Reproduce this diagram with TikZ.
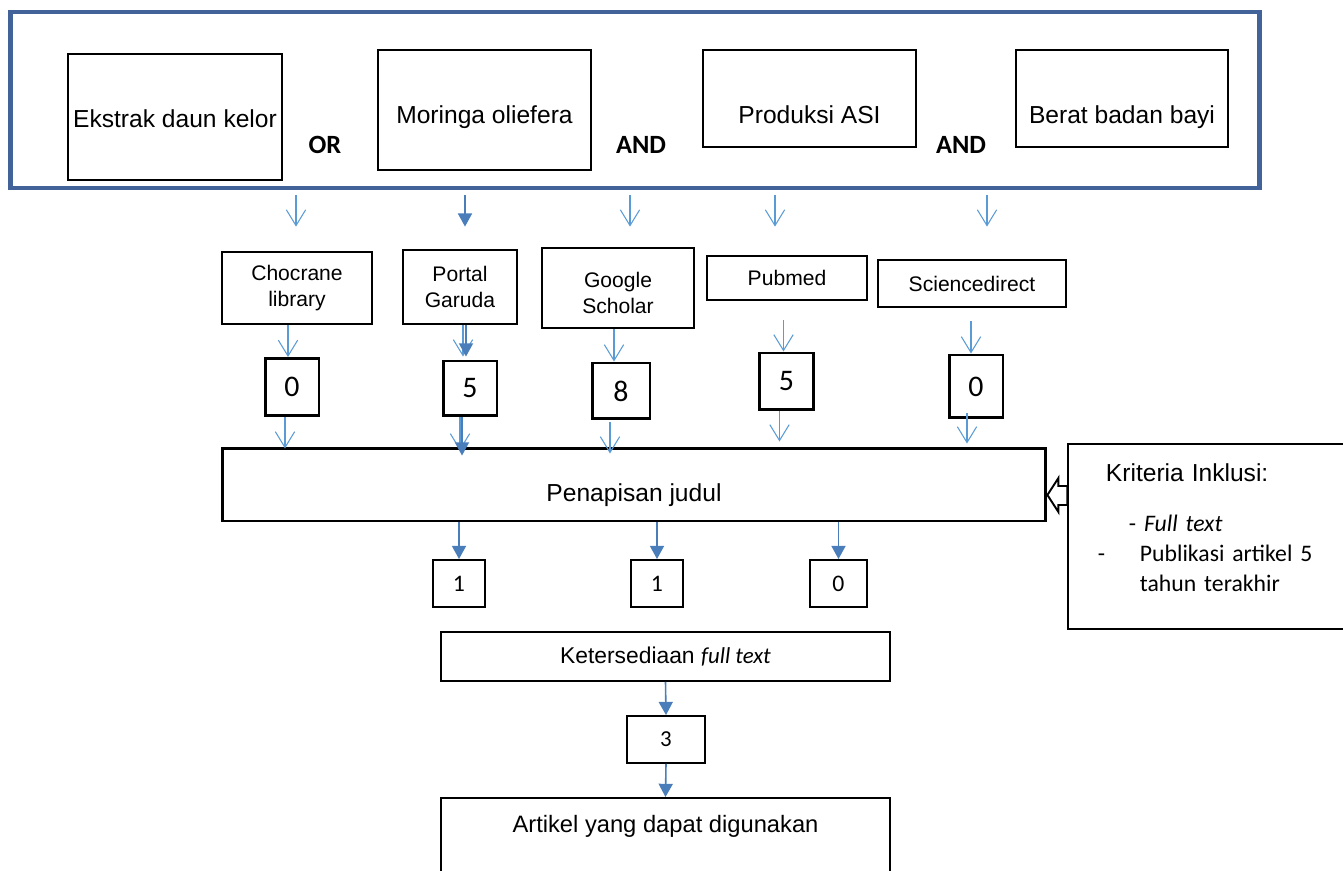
\documentclass[tikz,border=0pt]{standalone}
\usepackage{fontspec}
\setmainfont{Liberation Sans}
\newfontfamily\calibri{Carlito}
\usetikzlibrary{arrows.meta,calc}
\definecolor{framecol}{HTML}{41639A}
\definecolor{arrlight}{HTML}{5B9BD5}
\definecolor{arrdark}{HTML}{4A7EBB}

\begin{document}
\begin{tikzpicture}[
    x=0.02cm, y=-0.02cm,
    termnode/.style={rectangle, draw, line width=1.1pt, inner xsep=0pt, inner ysep=0pt, anchor=base, text height=1.48cm, font=\fontsize{14}{17}\selectfont},
    opnode/.style={font=\calibri\bfseries\fontsize{15}{18}\selectfont},
    dbnode/.style={rectangle, draw, line width=1.6pt, align=center, font=\fontsize{12}{15}\selectfont},
    countnode/.style={rectangle, draw, line width=1.7pt, minimum width=1.08cm, minimum height=1.14cm, font=\calibri\fontsize{17}{17}\selectfont},
    smallcount/.style={rectangle, draw, line width=1.1pt, minimum width=1.04cm, minimum height=0.94cm, font=\calibri\fontsize{13.5}{14}\selectfont},
    stepnode/.style={rectangle, draw, line width=1.1pt, minimum width=8.98cm, font=\fontsize{13}{16}\selectfont},
    openarr/.style={draw=arrlight, line width=0.6pt, -{Straight Barb[length=9pt, width=11pt]}},
    fillarr/.style={draw=arrdark, line width=0.9pt, -{Triangle[length=7.5pt, width=8pt]}}
   ]
   \useasboundingbox (0,0) rectangle (1343,871);

   % search terms
   \node[draw=framecol, line width=2.8pt, minimum width=25cm, minimum height=3.52cm] (frame) at (635,100) {};
   \node[termnode, minimum width=4.28cm, text depth=1.04cm] (kelor)    at (175,128)   {Ekstrak daun kelor};
   \node[termnode, minimum width=4.26cm, text depth=0.92cm] (moringa)  at (484.5,124) {Moringa oliefera};
   \node[termnode, minimum width=4.26cm, text depth=0.46cm] (produksi) at (809.5,124) {Produksi ASI};
   \node[termnode, minimum width=4.24cm, text depth=0.46cm] (berat)    at (1122,124)  {Berat badan bayi};
   \node[opnode] (orA)  at (325,145) {OR};
   \node[opnode] (andA) at (641,145) {AND};
   \node[opnode] (andB) at (961,145) {AND};

   % databases
   \node[dbnode, minimum width=3cm, minimum height=1.44cm]    (choc)    at (297,288)   {Chocrane\\library};
   \node[dbnode, minimum width=2.28cm, minimum height=1.48cm] (garuda)  at (460,287)   {Portal\\Garuda};
   \node[dbnode, minimum width=3.04cm, minimum height=1.6cm]  (scholar) at (618,288)   {\rule{0pt}{0.5cm}Google\\Scholar};
   \node[dbnode, minimum width=3.2cm, minimum height=0.88cm]  (pubmed)  at (787,278)   {Pubmed};
   \node[dbnode, minimum width=3.76cm, minimum height=0.94cm] (scidir)  at (972,283.5) {Sciencedirect};

   \node[countnode]                                          (nchoc)    at (292,387)     {0};
   \node[countnode, minimum height=1.1cm]                    (ngaruda)  at (470,388.5)   {5};
   \node[countnode, minimum width=1.16cm, minimum height=1.12cm] (nscholar) at (621,391) {8};
   \node[countnode]                                          (npubmed)  at (786.5,381.5) {5};
   \node[countnode, minimum height=1.26cm]                   (nscidir)  at (976,386.5)   {0};

   % screening
   \node[rectangle, draw, line width=1.7pt, minimum width=16.48cm, inner ysep=0pt, text height=1.08cm, text depth=0.38cm, anchor=base, font=\fontsize{14}{17}\selectfont] (judul) at (634,502) {Penapisan judul};
   \node[rectangle, draw, line width=1.1pt, anchor=north west, text width=5cm, inner xsep=0.6cm, minimum height=3.7cm, align=left, font=\calibri\fontsize{13.5}{17}\selectfont] (incl) at (1067,443)
     {{\rmfamily\fontsize{14}{17}\selectfont\hspace*{0.16cm}Kriteria Inklusi:}\\[0.4cm]
      \hspace*{0.62cm}- \textit{Full text}\\
      \makebox[0.84cm][l]{-}Publikasi artikel 5\\
      \hspace*{0.84cm}tahun terakhir\rule[-0.36cm]{0pt}{0pt}};

   \node[smallcount]                      (sel1) at (459,583.5)   {1};
   \node[smallcount]                      (sel2) at (657,583.5)   {1};
   \node[smallcount, minimum width=1.14cm] (sel3) at (838.5,583.5) {0};

   \node[stepnode, minimum height=0.98cm] (fulltext) at (665.5,656.5) {Ketersediaan {\calibri\itshape full text}};
   \node[smallcount, minimum width=1.56cm, font=\calibri\fontsize{13}{14}\selectfont] (nfull) at (666,739.5) {3};
   \node[stepnode, anchor=north, inner ysep=0.2cm, text height=0.5cm, text depth=1.6cm, font=\fontsize{13.5}{16}\selectfont] (artikel) at (665.5,797) {Artikel yang dapat digunakan};

   % search to databases
   \draw[openarr] ($(frame.south -| choc)+(-1,5)$)     -- ($(choc.north)+(-1,-24)$);
   \draw[fillarr] ($(frame.south -| garuda)+(5,5)$)    -- ($(garuda.north)+(5,-22)$);
   \draw[openarr] ($(frame.south -| scholar)+(12,5)$)  -- ($(scholar.north)+(12,-20)$);
   \draw[openarr] ($(frame.south -| pubmed)+(-12,5)$)  -- ($(pubmed.north)+(-12,-28)$);
   \draw[openarr] ($(frame.south -| scidir)+(15,5)$)   -- ($(scidir.north)+(15,-32)$);

   % databases to counts
   \draw[openarr] ($(choc.south -| nchoc)+(-4,0)$)       -- ($(nchoc.north)+(-4,0)$);
   \draw[openarr] ($(garuda.south -| ngaruda)+(-7,0)$)   -- ($(ngaruda.north)+(-7,-3)$);
   \draw[fillarr] ($(garuda.south -| ngaruda)+(-4,0)$)   -- ($(ngaruda.north)+(-4,-3)$);
   \draw[openarr] ($(scholar.south -| nscholar)+(-7,0)$) -- ($(nscholar.north)+(-7,0)$);
   \draw[openarr] ($(pubmed.south -| npubmed)+(-3,19)$)  -- ($(npubmed.north)+(-3,0)$);
   \draw[openarr] ($(scidir.south -| nscidir)+(-5,13)$)  -- ($(nscidir.north)+(-5,0)$);

   % counts to screening
   \draw[openarr] ($(nchoc.south)+(-7,0)$)     -- ($(judul.north -| nchoc)+(-7,2)$);
   \draw[openarr] ($(ngaruda.south)+(-10,0)$)  -- ($(judul.north -| ngaruda)+(-10,4)$);
   \draw[fillarr] ($(ngaruda.south)+(-8,0)$)   -- ($(judul.north -| ngaruda)+(-8,9)$);
   \draw[openarr] ($(nscholar.south)+(-11,2)$) -- ($(judul.north -| nscholar)+(-11,7)$);
   \draw[openarr] ($(npubmed.south)+(-7,0)$)   -- ($(judul.north -| npubmed)+(-7,-5)$);
   \draw[openarr] ($(nscidir.south)+(-9,-6)$)  -- ($(judul.north -| nscidir)+(-9,-3)$);

   % criteria into screening
   \draw[line width=1.1pt, fill=white] ($(judul.east)+(0,10.5)$) -- ++(11,-17) -- ++(0,8) -- ++(9,0) -- ++(0,19) -- ++(-9,0) -- ++(0,7) -- cycle;

   \draw[fillarr] (judul.south -| sel1) -- (sel1.north);
   \draw[fillarr] (judul.south -| sel2) -- (sel2.north);
   \draw[fillarr] (judul.south -| sel3) -- (sel3.north);
   \draw[fillarr] (fulltext.south) -- (nfull.north);
   \draw[fillarr] (nfull.south) -- (artikel.north);
\end{tikzpicture}
\end{document}
